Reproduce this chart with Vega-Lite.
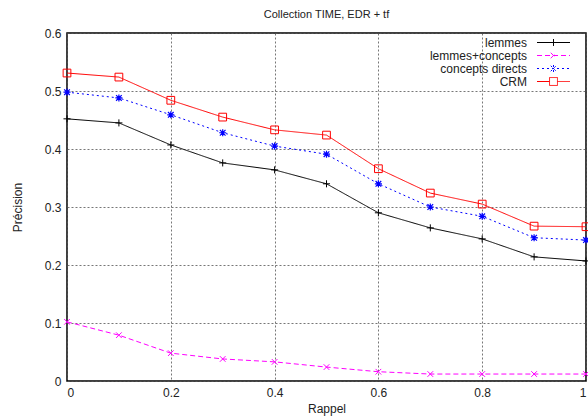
{
  "$schema": "https://vega.github.io/schema/vega-lite/v6.json",
  "width": 519,
  "height": 348,
  "autosize": {"type": "none"},
  "padding": {"left": 67, "top": 33, "right": 2, "bottom": 36},
  "background": "white",
  "config": {
    "font": "Liberation Sans",
    "view": {"stroke": "black", "strokeWidth": 1.5},
    "axis": {
      "labelFont": "Liberation Sans", "labelFontSize": 12, "labelColor": "#222",
      "titleFont": "Liberation Sans", "titleFontSize": 12, "titleFontWeight": "normal", "titleColor": "#222",
      "grid": true, "gridColor": "#555", "gridDash": [2, 2], "gridWidth": 1, "gridOpacity": 0.8,
      "domain": false, "tickColor": "black", "tickSize": 0, "labelPadding": 6
    }
  },
  "title": {"text": "Collection TIME, EDR + tf", "fontSize": 11, "fontWeight": "normal", "font": "Liberation Sans", "color": "#222", "offset": 7, "anchor": "middle"},
  "data": {"values": [
    {"r": 0, "p": 0.452, "s": "lemmes"}, {"r": 0.1, "p": 0.445, "s": "lemmes"}, {"r": 0.2, "p": 0.407, "s": "lemmes"}, {"r": 0.3, "p": 0.376, "s": "lemmes"}, {"r": 0.4, "p": 0.364, "s": "lemmes"}, {"r": 0.5, "p": 0.340, "s": "lemmes"}, {"r": 0.6, "p": 0.290, "s": "lemmes"}, {"r": 0.7, "p": 0.264, "s": "lemmes"}, {"r": 0.8, "p": 0.245, "s": "lemmes"}, {"r": 0.9, "p": 0.214, "s": "lemmes"}, {"r": 1.0, "p": 0.207, "s": "lemmes"},
    {"r": 0, "p": 0.102, "s": "lemmes+concepts"}, {"r": 0.1, "p": 0.079, "s": "lemmes+concepts"}, {"r": 0.2, "p": 0.048, "s": "lemmes+concepts"}, {"r": 0.3, "p": 0.038, "s": "lemmes+concepts"}, {"r": 0.4, "p": 0.033, "s": "lemmes+concepts"}, {"r": 0.5, "p": 0.024, "s": "lemmes+concepts"}, {"r": 0.6, "p": 0.016, "s": "lemmes+concepts"}, {"r": 0.7, "p": 0.012, "s": "lemmes+concepts"}, {"r": 0.8, "p": 0.012, "s": "lemmes+concepts"}, {"r": 0.9, "p": 0.012, "s": "lemmes+concepts"}, {"r": 1.0, "p": 0.012, "s": "lemmes+concepts"},
    {"r": 0, "p": 0.498, "s": "concepts directs"}, {"r": 0.1, "p": 0.488, "s": "concepts directs"}, {"r": 0.2, "p": 0.459, "s": "concepts directs"}, {"r": 0.3, "p": 0.428, "s": "concepts directs"}, {"r": 0.4, "p": 0.405, "s": "concepts directs"}, {"r": 0.5, "p": 0.391, "s": "concepts directs"}, {"r": 0.6, "p": 0.340, "s": "concepts directs"}, {"r": 0.7, "p": 0.300, "s": "concepts directs"}, {"r": 0.8, "p": 0.284, "s": "concepts directs"}, {"r": 0.9, "p": 0.247, "s": "concepts directs"}, {"r": 1.0, "p": 0.243, "s": "concepts directs"},
    {"r": 0, "p": 0.531, "s": "CRM"}, {"r": 0.1, "p": 0.524, "s": "CRM"}, {"r": 0.2, "p": 0.484, "s": "CRM"}, {"r": 0.3, "p": 0.455, "s": "CRM"}, {"r": 0.4, "p": 0.433, "s": "CRM"}, {"r": 0.5, "p": 0.424, "s": "CRM"}, {"r": 0.6, "p": 0.366, "s": "CRM"}, {"r": 0.7, "p": 0.324, "s": "CRM"}, {"r": 0.8, "p": 0.305, "s": "CRM"}, {"r": 0.9, "p": 0.267, "s": "CRM"}, {"r": 1.0, "p": 0.266, "s": "CRM"}
  ]},
  "encoding": {
    "x": {"field": "r", "type": "quantitative", "title": "Rappel", "scale": {"domain": [0, 1], "nice": false}, "axis": {"values": [0, 0.2, 0.4, 0.6, 0.8, 1], "format": "~g", "titlePadding": 5}},
    "y": {"field": "p", "type": "quantitative", "title": "Précision", "scale": {"domain": [0, 0.6], "nice": false}, "axis": {"values": [0, 0.1, 0.2, 0.3, 0.4, 0.5, 0.6], "format": "~g", "titlePadding": 20}},
    "color": {"field": "s", "type": "nominal", "title": null, "scale": {"domain": ["lemmes", "lemmes+concepts", "concepts directs", "CRM"], "range": ["black", "#ff00ff", "#0000ff", "#ff0000"]},
      "legend": {"orient": "none", "legendX": 480, "legendY": 3, "padding": 0, "labelFontSize": 12, "labelFont": "Liberation Sans", "labelColor": "#222", "labelAlign": "right", "labelOffset": -33, "symbolType": "stroke", "symbolSize": 144, "symbolStrokeWidth": 1, "rowPadding": 0, "labelLimit": 200,
        "encode": {"symbols": {"update": {"shape": {"signal": "datum.value === 'lemmes' ? 'M-2.75,0L2.75,0M0,-0.58L0,0.58' : datum.value === 'lemmes+concepts' ? 'M-2.75,0L2.75,0M-0.46,-0.46L0.46,0.46M-0.46,0.46L0.46,-0.46' : datum.value === 'concepts directs' ? 'M-2.75,0L2.75,0M0,-0.58L0,0.58M-0.46,-0.46L0.46,0.46M-0.46,0.46L0.46,-0.46' : 'M-2.75,0L-0.66,0M0.66,0L2.75,0M-0.66,-0.66L0.66,-0.66L0.66,0.66L-0.66,0.66Z'"}}}}}}
  },
  "layer": [
    {
      "mark": {"type": "line", "strokeWidth": 1},
      "encoding": {
        "strokeDash": {"field": "s", "type": "nominal", "legend": null, "scale": {"domain": ["lemmes", "lemmes+concepts", "concepts directs", "CRM"], "range": [[1, 0], [5, 3], [2, 3], [1, 0]]}}
      }
    },
    {
      "transform": [{"filter": {"field": "s", "equal": "lemmes"}}],
      "mark": {"type": "point", "filled": false, "strokeWidth": 1, "size": 50, "opacity": 1, "shape": "M-1,0L1,0M0,-1L0,1"}
    },
    {
      "transform": [{"filter": {"field": "s", "equal": "lemmes+concepts"}}],
      "mark": {"type": "point", "filled": false, "strokeWidth": 1, "size": 50, "opacity": 1, "shape": "M-0.8,-0.8L0.8,0.8M-0.8,0.8L0.8,-0.8"}
    },
    {
      "transform": [{"filter": {"field": "s", "equal": "concepts directs"}}],
      "mark": {"type": "point", "filled": false, "strokeWidth": 1.2, "size": 50, "opacity": 1, "shape": "M-1,0L1,0M0,-1L0,1M-0.8,-0.8L0.8,0.8M-0.8,0.8L0.8,-0.8"}
    },
    {
      "transform": [{"filter": {"field": "s", "equal": "CRM"}}],
      "mark": {"type": "point", "filled": false, "strokeWidth": 1, "size": 60, "opacity": 1, "shape": "square"}
    }
  ]
}
